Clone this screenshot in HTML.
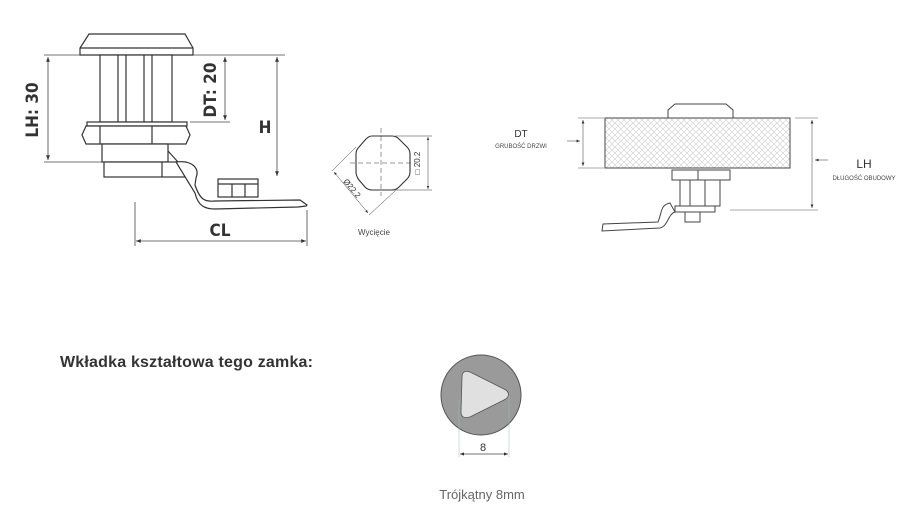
<!DOCTYPE html>
<html><head><meta charset="utf-8"><style>
body{margin:0;background:#fff;width:921px;height:515px;overflow:hidden}
svg{display:block}
</style></head><body>
<svg width="921" height="515" viewBox="0 0 921 515" xmlns="http://www.w3.org/2000/svg" font-family="Liberation Sans, sans-serif">
<defs>
<marker id="a" viewBox="0 0 10 10" refX="10" refY="5" markerWidth="6" markerHeight="8" orient="auto-start-reverse"><path d="M0,1 L10,5 L0,9 z" fill="#333"/></marker>
<pattern id="x" width="6" height="6" patternUnits="userSpaceOnUse"><path d="M0,0 L6,6 M6,0 L0,6" stroke="#ccc" stroke-width="0.6"/></pattern>
</defs>
<!-- LEFT LOCK -->
<g stroke="#333" stroke-width="1.2" fill="#fff">
<path d="M80,55 L80,48 L89,34 L185,34 L193,48 L193,55 Z"/>
<line x1="80" y1="48" x2="193" y2="48"/>
<rect x="100" y="55" width="72" height="67"/>
<line x1="118" y1="55" x2="118" y2="122"/><line x1="126" y1="55" x2="126" y2="122"/>
<line x1="144" y1="55" x2="144" y2="122"/><line x1="152" y1="55" x2="152" y2="122"/>
<rect x="87" y="122" width="100" height="4"/>
<path d="M86,126 L186,126 L190,135 L186,144 L86,144 L82,135 Z"/>
<line x1="100" y1="126" x2="100" y2="144"/><line x1="152" y1="126" x2="152" y2="144"/>
<rect x="102" y="144" width="66" height="18"/>
<rect x="104" y="162" width="82" height="15"/>
<line x1="162" y1="162" x2="162" y2="177"/>
<path d="M168,151 L178,162 M176,162 C192,160 200,168 196,178 L195,185 C200,200 205,202 215,201 L300,200 L307,205 L306,206 L298,207 L215,209 C205,209 198,206 195,193 Z"/>
<rect x="218" y="179" width="40" height="18"/>
<line x1="232" y1="184" x2="232" y2="197"/><line x1="245" y1="184" x2="245" y2="197"/>
<line x1="218" y1="184" x2="258" y2="184"/>
</g>
<g stroke="#444" stroke-width="0.8" fill="none">
<line x1="44" y1="55" x2="80" y2="55"/><line x1="44" y1="162" x2="104" y2="162"/>
<line x1="48" y1="57" x2="48" y2="160" marker-start="url(#a)" marker-end="url(#a)"/>
<line x1="190" y1="122" x2="230" y2="122"/>
<line x1="225" y1="57" x2="225" y2="120" marker-start="url(#a)" marker-end="url(#a)"/>
<line x1="193" y1="55" x2="285" y2="55"/>
<line x1="277" y1="57" x2="277" y2="176" marker-start="url(#a)" marker-end="url(#a)"/>
<line x1="135" y1="202" x2="135" y2="246"/><line x1="307" y1="210" x2="307" y2="246"/>
<line x1="136" y1="241" x2="306" y2="241" marker-start="url(#a)" marker-end="url(#a)"/>
</g>
<g font-weight="bold" font-size="17" fill="#333" font-family="DejaVu Sans Condensed, Liberation Sans Narrow, sans-serif">
<text transform="translate(38,110) rotate(-90)" text-anchor="middle">LH: 30</text>
<text transform="translate(216,90) rotate(-90)" text-anchor="middle">DT: 20</text>
<text x="265" y="133" text-anchor="middle">H</text>
<text x="220" y="236" text-anchor="middle">CL</text>
</g>
<!-- CUTOUT -->
<g stroke="#333" fill="none">
<path d="M372,136 L392,136 Q396,136 399,139 L407,147 Q410,150 410,154 L410,172 Q410,176 407,179 L399,187 Q396,190 392,190 L372,190 Q368,190 365,187 L359,180 Q356,176 356,172 L356,154 Q356,150 359,147 L366,139 Q369,136 372,136 Z" stroke-width="1.1"/>
<g stroke-width="0.5" stroke-dasharray="5,3"><line x1="381" y1="128" x2="381" y2="196"/><line x1="350" y1="163" x2="415" y2="163"/></g>
<g stroke-width="0.5"><line x1="395" y1="136" x2="432" y2="136"/><line x1="396" y1="190" x2="432" y2="190"/>
<line x1="428" y1="137" x2="428" y2="189" marker-start="url(#a)" marker-end="url(#a)"/>
<line x1="356" y1="147" x2="332" y2="171"/><line x1="396" y1="190" x2="369" y2="215"/>
<line x1="334" y1="172" x2="368" y2="213" marker-start="url(#a)" marker-end="url(#a)"/></g>
</g>
<text transform="translate(420,163) rotate(-90)" text-anchor="middle" font-size="8" fill="#333">□ 20.2</text>
<text transform="translate(350,190) rotate(50)" text-anchor="middle" font-size="8" fill="#333">Ø22.2</text>
<text x="374" y="235" text-anchor="middle" font-size="8" fill="#444">Wycięcie</text>
<!-- RIGHT -->
<g stroke="#444" stroke-width="1" fill="#fff">
<path d="M668,118 L668,110 L675,104 L726,104 L733,110 L733,118 Z"/>
<rect x="605" y="118" width="185" height="50" fill="url(#x)"/>
<rect x="672" y="170" width="58" height="10"/><line x1="698" y1="170" x2="698" y2="180"/>
<rect x="680" y="180" width="40" height="26"/><line x1="690" y1="180" x2="690" y2="206"/><line x1="705" y1="180" x2="705" y2="206"/>
<rect x="675" y="206" width="40" height="6"/>
<path d="M685,212 L700,212 L700,222 L685,222 Z"/>
<path d="M670,203 C660,205 662,213 658,222 L603,224 L602,231 L660,228 C668,226 668,214 675,212 Z"/>
</g>
<g stroke="#555" stroke-width="0.6" fill="none">
<line x1="578" y1="118" x2="604" y2="118"/><line x1="578" y1="168" x2="604" y2="168"/>
<line x1="583" y1="120" x2="583" y2="166" marker-start="url(#a)" marker-end="url(#a)"/>
<line x1="567" y1="141" x2="580" y2="141" marker-end="url(#a)"/>
<line x1="795" y1="118" x2="818" y2="118"/><line x1="730" y1="210" x2="818" y2="210"/>
<line x1="812" y1="120" x2="812" y2="208" marker-start="url(#a)" marker-end="url(#a)"/>
<line x1="828" y1="160" x2="815" y2="160" marker-end="url(#a)"/>
</g>
<text x="521" y="137" text-anchor="middle" font-size="10" fill="#333">DT</text>
<text x="521" y="148" text-anchor="middle" font-size="6" fill="#444">GRUBOŚĆ DRZWI</text>
<text x="864" y="168" text-anchor="middle" font-size="12" fill="#333">LH</text>
<text x="864" y="180" text-anchor="middle" font-size="6" fill="#444">DŁUGOŚĆ OBUDOWY</text>
<!-- HEADING -->
<text x="60" y="367" font-size="16" font-weight="bold" fill="#333" letter-spacing="0.2">Wkładka kształtowa tego zamka:</text>
<!-- KEY -->
<circle cx="481" cy="395" r="40" fill="#9a9a9a" stroke="#555" stroke-width="1"/>
<path d="M462,377 C462,371 466,370 472,373 L504,389 C510,392 510,397 504,400 L472,416 C466,419 461,418 461,412 Z" fill="#e0e0e0" stroke="#555" stroke-width="0.8"/>
<g stroke="#9bb" stroke-width="0.5"><line x1="459" y1="400" x2="459" y2="457"/><line x1="509" y1="395" x2="509" y2="457"/></g>
<line x1="460" y1="454" x2="508" y2="454" stroke="#444" stroke-width="0.7" marker-start="url(#a)" marker-end="url(#a)"/>
<text x="483" y="451" text-anchor="middle" font-size="11" fill="#333">8</text>
<text x="482" y="499" text-anchor="middle" font-size="13" fill="#666">Trójkątny 8mm</text>
</svg>
</body></html>
